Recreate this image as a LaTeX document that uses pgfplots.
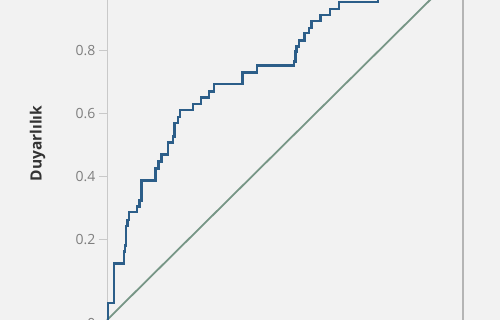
\documentclass[border=0pt]{standalone}
\usepackage{fontspec}
\setmainfont{Open Sans}
\usepackage{pgfplots}
\pgfplotsset{compat=1.18}
\definecolor{bg}{HTML}{F2F2F2}
\definecolor{curve}{HTML}{2C5E89}
\definecolor{diag}{HTML}{779686}
\definecolor{axisgray}{HTML}{C9C9C9}
\definecolor{ticktext}{HTML}{7F7F7F}
\definecolor{labeltext}{HTML}{333333}
\begin{document}
\begin{tikzpicture}[x=1pt,y=1pt]
\fill[bg] (0,0) rectangle (500,320);
\path[use as bounding box] (0,0) rectangle (500,320);
\clip (0,0) rectangle (500,320);
\begin{axis}[
  at={(107pt,-14.5pt)}, anchor=south west,
  scale only axis, width=356pt, height=334.5pt,
  xmin=0, xmax=1.1302, ymin=-0.1, ymax=0.9619,
  clip=false,
  axis x line=none,
  axis y line=left,
  y axis line style={-, draw=axisgray, line width=1pt},
  tick align=outside,
  major tick length=8pt,
  ytick={0.2,0.4,0.6,0.8},
  yticklabels={0.2,0.4,0.6,0.8},
  extra y ticks={-0.0635},
  extra y tick labels={0},
  y tick style={draw=axisgray, line width=1pt},
  yticklabel style={font=\fontsize{14}{16}\selectfont, text=ticktext, anchor=east},
  ylabel={Duyarlılık},
  ylabel style={at={(axis description cs:-0.1952,0.571)}, anchor=center, font=\fontsize{15.5}{18}\selectfont\bfseries, text=labeltext},
]
\addplot[draw=axisgray!90!black, line width=1.6pt] coordinates {(1.1302,-0.2) (1.1302,1.2)};
\addplot[draw=diag, line width=1.8pt] coordinates {(0,-0.05397) (1.1302,1.06567)};
\addplot[draw=curve, line width=2.4pt, line join=miter] coordinates {
(0.00317,-0.05397) (0.00317,0) (0.02317,0) (0.02317,0.12540)
(0.05302,0.12540) (0.05302,0.16349) (0.05778,0.16349) (0.05778,0.18254)
(0.06127,0.18254) (0.06127,0.24444) (0.06571,0.24444) (0.06571,0.26349)
(0.07048,0.26349) (0.07048,0.28794) (0.09524,0.28794) (0.09524,0.30571)
(0.10317,0.30571) (0.10317,0.32476) (0.10952,0.32476) (0.10952,0.38889)
(0.15397,0.38889) (0.15397,0.42698) (0.16349,0.42698) (0.16349,0.44857)
(0.17365,0.44857) (0.17365,0.47143) (0.19460,0.47143) (0.19460,0.50889)
(0.20952,0.50889) (0.20952,0.52794) (0.21492,0.52794) (0.21492,0.57048)
(0.22635,0.57048) (0.22635,0.58952) (0.23175,0.58952) (0.23175,0.61175)
(0.27397,0.61175) (0.27397,0.63175) (0.29841,0.63175) (0.29841,0.65175)
(0.32476,0.65175) (0.32476,0.67079) (0.33968,0.67079) (0.33968,0.69429)
(0.43016,0.69429) (0.43016,0.73175) (0.47714,0.73175) (0.47714,0.75333)
(0.59365,0.75333) (0.59365,0.76603) (0.59905,0.76603) (0.59905,0.79778)
(0.60222,0.79778) (0.60222,0.81365) (0.61016,0.81365) (0.61016,0.83333)
(0.62698,0.83333) (0.62698,0.85619) (0.64127,0.85619) (0.64127,0.87302)
(0.64984,0.87302) (0.64984,0.89429) (0.67778,0.89429) (0.67778,0.91429)
(0.70794,0.91429) (0.70794,0.93333) (0.73651,0.93333) (0.73651,0.95556)
(0.86127,0.95556) (0.86127,1.0) (1.1302,1.0)
};
\end{axis}
\end{tikzpicture}
\end{document}
